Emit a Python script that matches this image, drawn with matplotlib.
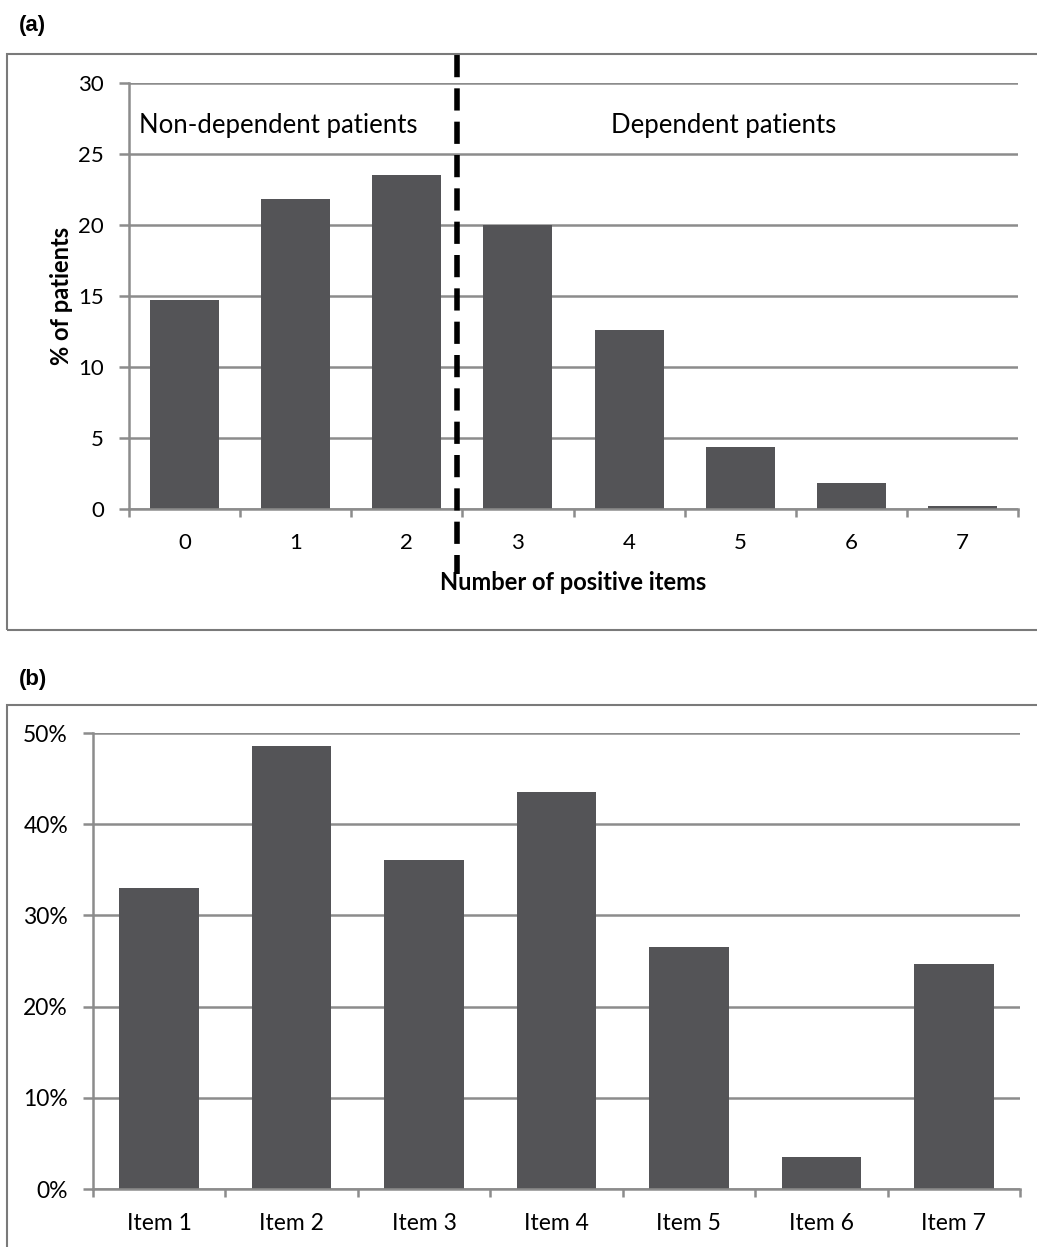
import matplotlib.pyplot as plt
from matplotlib.patches import Rectangle
from matplotlib.ticker import FuncFormatter, FixedLocator

# ---- data ----
n_positive = [0, 1, 2, 3, 4, 5, 6, 7]
pct_patients = [14.7, 21.8, 23.5, 20.0, 12.6, 4.4, 1.8, 0.2]
cutoff_x = 2.45

items = ['Item 1', 'Item 2', 'Item 3', 'Item 4', 'Item 5', 'Item 6', 'Item 7']
pct_items = [33.0, 48.6, 36.1, 43.5, 26.5, 3.5, 24.7]

bar_color = '#545457'
grid_color = '#8c8c8c'
font = ['Lato', 'DejaVu Sans']

plt.rcParams['font.family'] = font

W, H = 1037, 1247
fig = plt.figure(figsize=(W / 100, H / 100), dpi=100)

# panel frames
fig.add_artist(Rectangle((7 / W, 1 - 630 / H), 1.0, (630 - 54) / H,
                         transform=fig.transFigure, fill=False, ec='#7a7a7a', lw=1.5))
fig.add_artist(Rectangle((7 / W, -0.1), 1.0, 0.1 + 1 - 705 / H,
                         transform=fig.transFigure, fill=False, ec='#7a7a7a', lw=1.5))
fig.text(19 / W, 1 - 26 / H, '(a)', fontsize=16, fontweight='bold',
         family='Liberation Sans', ha='left', va='center')
fig.text(19 / W, 1 - 679 / H, '(b)', fontsize=16, fontweight='bold',
         family='Liberation Sans', ha='left', va='center')


def style_axes(ax):
    for s in ['top', 'right']:
        ax.spines[s].set_visible(False)
    for s in ['left', 'bottom']:
        ax.spines[s].set_color(grid_color)
        ax.spines[s].set_linewidth(1.8)
    ax.yaxis.grid(True, color=grid_color, lw=1.8)
    ax.set_axisbelow(True)
    ax.tick_params(axis='y', length=7, width=1.8, color=grid_color, pad=11)
    ax.tick_params(axis='x', which='major', length=0, pad=17)
    ax.tick_params(axis='x', which='minor', length=6, width=1.8, color=grid_color)


# ----- panel (a) -----
ax1 = fig.add_axes([129 / W, 1 - 509 / H, (1018 - 129) / W, (509 - 83) / H])
ax1.bar(n_positive, pct_patients, width=0.62, color=bar_color, zorder=2)
ax1.set_xlim(-0.5, 7.5)
ax1.set_ylim(0, 30)
ax1.set_yticks(range(0, 31, 5))
ax1.set_xticks(n_positive)
ax1.xaxis.set_minor_locator(FixedLocator([x - 0.5 for x in n_positive] + [7.5]))
style_axes(ax1)
ax1.tick_params(labelsize=16)
# cut-off between non-dependent and dependent
ax1.plot([cutoff_x, cutoff_x], [32.0, -4.6], color='black', lw=4,
         ls=(0, (4, 2.0)), clip_on=False, zorder=3)
ax1.text(-0.41, 27.0, 'Non-dependent patients', fontsize=18.5, ha='left', va='center')
ax1.text(4.85, 27.0, 'Dependent patients', fontsize=18.5, ha='center', va='center')
ax1.set_ylabel('% of patients', fontsize=17, fontweight='bold', labelpad=4)
ax1.set_xlabel('Number of positive items', fontsize=17, fontweight='bold', labelpad=13)

# ----- panel (b) -----
ax2 = fig.add_axes([93 / W, 1 - 1189 / H, (1020 - 93) / W, (1189 - 733) / H])
xb = list(range(len(items)))
ax2.bar(xb, pct_items, width=0.6, color=bar_color, zorder=2)
ax2.set_xlim(-0.5, len(items) - 0.5)
ax2.set_ylim(0, 50)
ax2.set_yticks(range(0, 51, 10))
ax2.yaxis.set_major_formatter(FuncFormatter(lambda v, p: f'{v:.0f}%'))
ax2.set_xticks(xb)
ax2.set_xticklabels(items)
ax2.xaxis.set_minor_locator(FixedLocator([x - 0.5 for x in xb] + [len(items) - 0.5]))
style_axes(ax2)
ax2.tick_params(labelsize=16.5)
ax2.tick_params(axis='x', which='major', pad=17)

fig.savefig('out.png', dpi=100)
